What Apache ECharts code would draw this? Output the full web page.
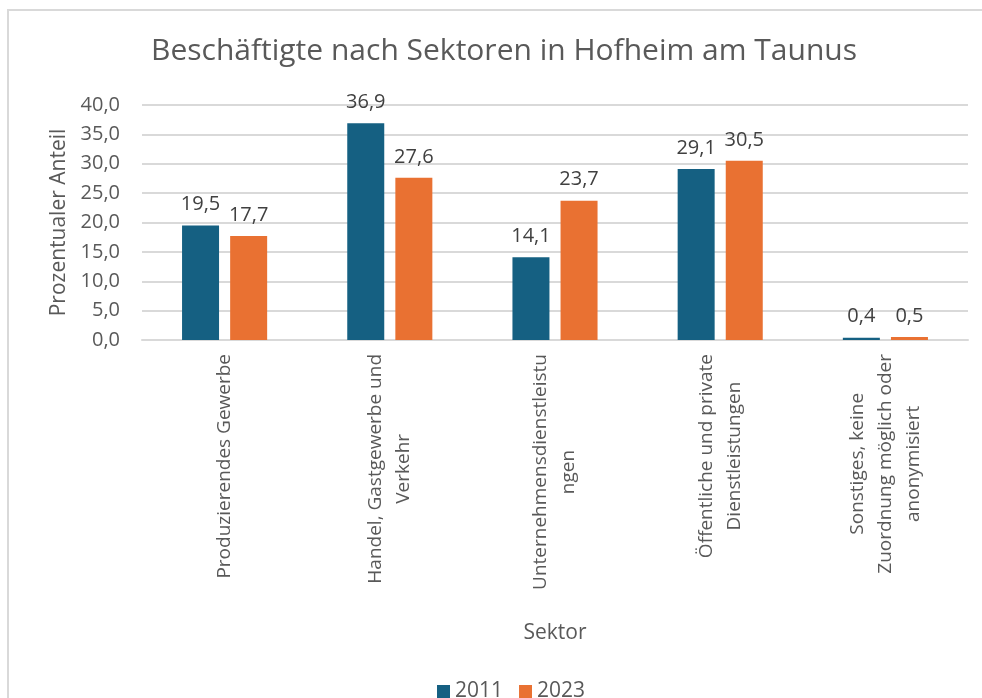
<!DOCTYPE html>
<html>
<head>
<meta charset="utf-8">
<script src="https://cdn.jsdelivr.net/npm/echarts@6/dist/echarts.min.js"></script>
<style>
  html, body { margin: 0; padding: 0; background: #fff; }
  #chart { width: 982px; height: 698px; }
</style>
</head>
<body>
<div id="chart"></div>
<script>
// Daten
const categories = [
  'Produzierendes Gewerbe',
  'Handel, Gastgewerbe und\nVerkehr',
  'Unternehmensdienstleistu\nngen',
  'Öffentliche und private\nDienstleistungen',
  'Sonstiges, keine\nZuordnung möglich oder\nanonymisiert'
];
const seriesNames = ['2011', '2023'];
const values2011 = [19.5, 36.9, 14.1, 29.1, 0.4];
const values2023 = [17.7, 27.6, 23.7, 30.5, 0.5];
const yTicks = [0, 5, 10, 15, 20, 25, 30, 35, 40];

const colors = ['#156082', '#E97132'];
const font = 'Open Sans';
const fmt = v => Number(v).toFixed(1).replace('.', ',');

const chart = echarts.init(document.getElementById('chart'));

const barSeries = (name, data, color) => ({
  name: name,
  type: 'bar',
  data: data,
  barWidth: 37,
  barGap: '30%',
  itemStyle: { color: color },
  label: {
    show: true,
    position: 'top',
    distance: 11,
    formatter: p => fmt(p.value),
    color: '#404040',
    fontSize: 20,
    fontFamily: font
  }
});

const option = {
  backgroundColor: '#fff',
  textStyle: { fontFamily: font },
  graphic: [{
    type: 'rect',
    shape: { x: 8, y: 10, width: 1100, height: 800 },
    style: { fill: 'none', stroke: '#d9d9d9', lineWidth: 2 },
    silent: true
  }],
  title: {
    text: 'Beschäftigte nach Sektoren in Hofheim am Taunus',
    left: 146,
    top: 31,
    textStyle: { color: '#595959', fontSize: 30, fontWeight: 'normal', fontFamily: font }
  },
  legend: {
    data: seriesNames,
    bottom: -9,
    left: 432,
    itemWidth: 13,
    itemHeight: 13,
    itemGap: 16,
    icon: 'rect',
    textStyle: { color: '#595959', fontSize: 21, fontFamily: font }
  },
  grid: { left: 142, right: 14, top: 105, bottom: 358 },
  xAxis: {
    type: 'category',
    data: categories,
    name: 'Sektor',
    nameLocation: 'middle',
    nameGap: 283,
    nameTextStyle: { color: '#595959', fontSize: 21, fontFamily: font },
    axisLine: { lineStyle: { color: '#d9d9d9', width: 2 } },
    axisTick: { show: false },
    axisLabel: {
      rotate: 90,
      margin: 14,
      interval: 0,
      formatter: v => v.split('\n').map(s => '{a|' + s + '}').join('\n'),
      rich: {
        a: { align: 'center', color: '#595959', fontSize: 19, lineHeight: 28, fontFamily: font }
      }
    }
  },
  yAxis: {
    type: 'value',
    min: yTicks[0],
    max: yTicks[yTicks.length - 1],
    interval: yTicks[1] - yTicks[0],
    name: 'Prozentualer Anteil',
    nameLocation: 'middle',
    nameGap: 72,
    nameTextStyle: { color: '#595959', fontSize: 21, fontFamily: font },
    axisLine: { show: false },
    axisTick: { show: false },
    splitLine: { lineStyle: { color: '#d9d9d9', width: 2 } },
    axisLabel: {
      formatter: v => fmt(v),
      color: '#595959',
      fontSize: 20,
      margin: 22,
      fontFamily: font
    }
  },
  series: [
    barSeries(seriesNames[0], values2011, colors[0]),
    barSeries(seriesNames[1], values2023, colors[1])
  ]
};

chart.setOption(option);
</script>
</body>
</html>
